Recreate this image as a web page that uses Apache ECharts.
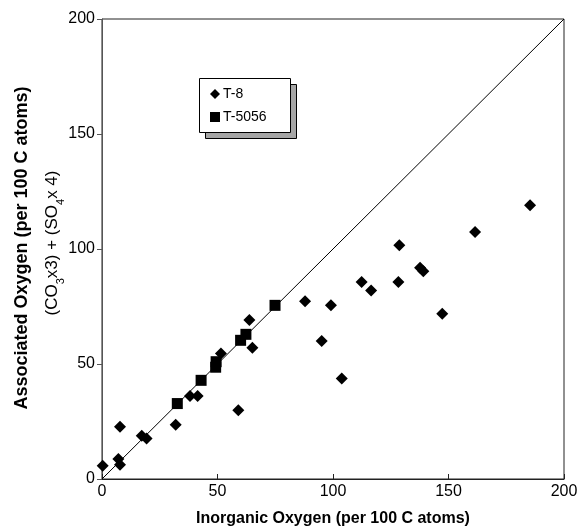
<!DOCTYPE html>
<html>
<head>
<meta charset="utf-8">
<script src="https://cdn.jsdelivr.net/npm/echarts@6/dist/echarts.min.js"></script>
<style>html,body{margin:0;padding:0;background:#fff}#c{width:584px;height:532px}</style>
</head>
<body>
<div id="c"></div>
<script>
var seriesNames = ['T-8', 'T-5056'];
var t8 = [
  [0.3, 5.8], [7.1, 8.7], [7.8, 6.2], [7.8, 22.7], [17.2, 18.8], [19.3, 17.6],
  [31.9, 23.6], [38.1, 36.1], [41.4, 36.1], [51.5, 54.6], [59, 29.9],
  [63.8, 69.1], [65.1, 57.1], [87.9, 77.3], [99.1, 75.5], [95.1, 60],
  [103.8, 43.7], [112.4, 85.7], [116.5, 82], [128.7, 101.6], [128.3, 85.6],
  [137.7, 91.8], [139.1, 90.3], [147.3, 71.9], [161.5, 107.4], [185.3, 119]
];
var t5056 = [
  [32.6, 32.8], [42.9, 42.9], [49.2, 48.6], [49.4, 51], [60, 60.3],
  [62.3, 62.9], [74.9, 75.5]
];
var oneToOne = [[0, 0], [200, 200]];
var xTicks = [0, 50, 100, 150, 200];
var yTicks = [0, 50, 100, 150, 200];

var chart = echarts.init(document.getElementById('c'), null, {renderer: 'canvas'});
var font = 'Liberation Sans, Arial, sans-serif';
chart.setOption({
  animation: false,
  backgroundColor: '#fff',
  grid: {left: 102, right: 20, top: 19, bottom: 52, show: true, borderColor: '#222', borderWidth: 1, backgroundColor: 'transparent'},
  xAxis: {
    type: 'value', min: xTicks[0], max: xTicks[xTicks.length - 1], interval: 50,
    axisLine: {show: true, lineStyle: {color: '#222', width: 1}},
    axisTick: {show: true, inside: true, length: 5, lineStyle: {color: '#222'}},
    axisLabel: {color: '#000', fontFamily: font, fontSize: 16, margin: 5},
    splitLine: {show: false},
    name: 'Inorganic Oxygen (per 100 C atoms)', nameLocation: 'middle', nameGap: 32,
    nameTextStyle: {color: '#000', fontFamily: font, fontSize: 16, fontWeight: 'bold'}
  },
  yAxis: {
    type: 'value', min: yTicks[0], max: yTicks[yTicks.length - 1], interval: 50,
    axisLine: {show: true, lineStyle: {color: '#555', width: 1}},
    axisTick: {show: true, inside: false, length: 5, lineStyle: {color: '#555'}},
    axisLabel: {color: '#000', fontFamily: font, fontSize: 16, margin: 7},
    splitLine: {show: false}
  },
  legend: {
    data: [{name: seriesNames[0], icon: 'diamond'}, {name: seriesNames[1], icon: 'rect'}],
    orient: 'vertical', left: 210, top: 87, itemGap: 9,
    itemWidth: 10, itemHeight: 10,
    itemStyle: {opacity: 1},
    textStyle: {color: '#000', fontFamily: font, fontSize: 14, padding: [0, 0, 0, -2]},
    backgroundColor: 'transparent', borderWidth: 0, padding: 0, z: 10
  },
  graphic: [
    {type: 'rect', left: 205, top: 84, z: 1, shape: {width: 91, height: 54}, style: {fill: '#a6a6a6', stroke: '#000', lineWidth: 1}},
    {type: 'rect', left: 199, top: 78, z: 2, shape: {width: 91, height: 54}, style: {fill: '#fff', stroke: '#000', lineWidth: 1}},
    {type: 'text', x: 22, y: 248, rotation: Math.PI / 2, z: 5,
      style: {text: 'Associated Oxygen (per 100 C atoms)', fill: '#000', font: 'bold 18px ' + font, align: 'center', verticalAlign: 'middle'}},
    {type: 'text', x: 50, y: 243, rotation: Math.PI / 2, z: 5,
      style: {
        text: '{n|(CO}{s|3}{n|x3) + (SO}{s|4}{n|x 4)}',
        align: 'center', verticalAlign: 'middle',
        rich: {
          n: {fontFamily: font, fontSize: 17, fill: '#000', verticalAlign: 'bottom', lineHeight: 22},
          s: {fontFamily: font, fontSize: 11, fill: '#000', verticalAlign: 'bottom', lineHeight: 14, padding: [0, 0, -5, 0]}
        }
      }
    }
  ],
  series: [
    {
      name: 'line', type: 'line', data: oneToOne, showSymbol: false, symbol: 'none',
      lineStyle: {color: '#000', width: 1}, silent: true, z: 1
    },
    {
      name: seriesNames[0], type: 'scatter', data: t8, symbol: 'diamond', symbolSize: 12,
      itemStyle: {color: '#000', opacity: 1}, z: 3
    },
    {
      name: seriesNames[1], type: 'scatter', data: t5056, symbol: 'rect', symbolSize: 11,
      itemStyle: {color: '#000', opacity: 1}, z: 3
    }
  ]
});
</script>
</body>
</html>
